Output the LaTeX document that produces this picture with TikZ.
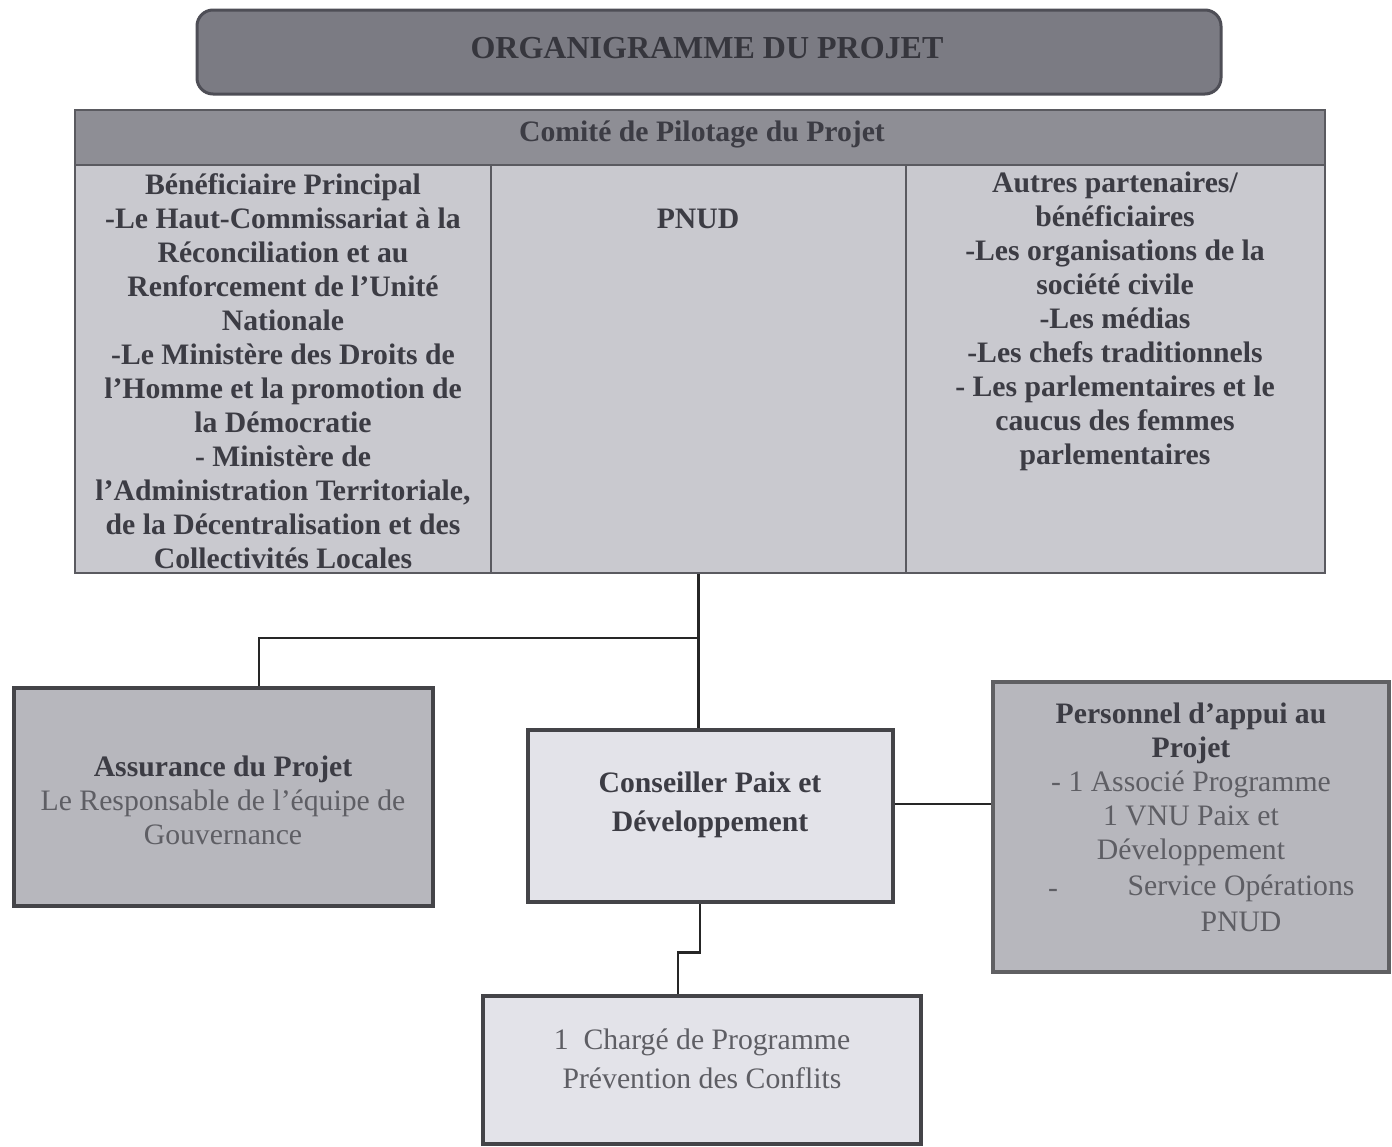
\documentclass[tikz,border=0pt]{standalone}
\usepackage{fontspec}
\setmainfont{Liberation Serif}
\newcommand\bodyfs{\fontsize{29.7}{34}\selectfont}
\newcommand\widefs{\fontsize{29.7}{39}\selectfont}
\definecolor{titlefill}{HTML}{7B7B83}
\definecolor{titleline}{HTML}{4E4E56}
\definecolor{headfill}{HTML}{8E8E95}
\definecolor{bodyfill}{HTML}{C9C9CF}
\definecolor{tableline}{HTML}{5A5A60}
\definecolor{textdark}{HTML}{3C3C44}
\definecolor{textlight}{HTML}{5E5E64}
\definecolor{darkbox}{HTML}{B7B7BD}
\definecolor{lightbox}{HTML}{E3E3E9}
\definecolor{boxline}{HTML}{444448}
\begin{document}
\begin{tikzpicture}[x=1pt,y=-1pt,
  cell/.style={draw=tableline, line width=1.5pt, fill=bodyfill, inner sep=0pt},
  orgbox/.style={draw=boxline, line width=4.5pt, inner sep=0pt},
  txt/.style={align=center, inner sep=0pt, font=\bodyfs, text=textdark},
  conn/.style={draw=black!85, line width=2.5pt}]
\useasboundingbox (0,0) rectangle (1392,1146);
\fill[white] (0,0) rectangle (1392,1146);

% title
\node[draw=titleline, line width=3pt, fill=titlefill, rounded corners=16pt,
      minimum width=1024pt, minimum height=84pt, inner sep=0pt] (title) at (709,52) {};
\node[txt, font=\fontsize{32}{36}\selectfont\bfseries, text=textdark!90!black] (titletxt) at (707,48) {ORGANIGRAMME DU PROJET};

% steering committee table
\node[cell, minimum width=416pt, minimum height=408pt] (col1) at (283,369) {};
\node[cell, minimum width=415pt, minimum height=408pt] (col2) at (698.5,369) {};
\node[cell, minimum width=419pt, minimum height=408pt] (col3) at (1115.5,369) {};
\node[cell, fill=headfill, minimum width=1250pt, minimum height=55pt] (header) at (700,137.5) {};
\node[txt, font=\bodyfs\bfseries] (headtxt) at (702,134) {Comité de Pilotage du Projet};

\node[txt, font=\bodyfs\bfseries] (benef) at (283,371) {Bénéficiaire Principal\\
-Le Haut-Commissariat à la\\
Réconciliation et au\\
Renforcement de l’Unité\\
Nationale\\
-Le Ministère des Droits de\\
l’Homme et la promotion de\\
la Démocratie\\
- Ministère de\\
l’Administration Territoriale,\\
de la Décentralisation et des\\
Collectivités Locales};

\node[txt, font=\bodyfs\bfseries] (pnud) at (698,219) {PNUD};

\node[txt, font=\bodyfs\bfseries] (autres) at (1115,321) {Autres partenaires/\\
bénéficiaires\\
-Les organisations de la\\
société civile\\
-Les médias\\
-Les chefs traditionnels\\
- Les parlementaires et le\\
caucus des femmes\\
parlementaires};

% lower boxes
\node[orgbox, fill=darkbox, minimum width=419pt, minimum height=218pt] (assurance) at (223.5,797) {};
\node[txt] (assurtxt) at (223,800) {{\bfseries Assurance du Projet}\\
\color{textlight}Le Responsable de l’équipe de\\
\color{textlight}Gouvernance};

\node[orgbox, fill=lightbox, minimum width=365pt, minimum height=172pt] (conseiller) at (710.5,816) {};
\node[txt, font=\widefs\bfseries] (conseiltxt) at (710,805) {Conseiller Paix et\\Développement};

\node[orgbox, fill=darkbox, draw=boxline!85, minimum width=396pt, minimum height=290pt] (personnel) at (1191,827) {};
\node[txt] (perstxt) at (1191,784) {{\bfseries Personnel d’appui au}\\
{\bfseries Projet}\\
\color{textlight}- 1 Associé Programme\\
\color{textlight}1 VNU Paix et\\
\color{textlight}Développement};
\node[txt, text=textlight] (persdash) at (1053,893) {-};
\node[txt, text=textlight, font=\fontsize{29.7}{36}\selectfont] (perssvc) at (1241,903) {Service Opérations\\PNUD};

\node[orgbox, fill=lightbox, minimum width=438pt, minimum height=148pt] (charge) at (702,1070) {};
\node[txt, text=textlight, font=\widefs] (chargetxt) at (702,1059) {1\enspace Chargé de Programme\\Prévention des Conflits};

% connectors
\coordinate (jn) at (698.5,638);
\draw[conn] (col2.south) -- (col2.south |- conseiller.north);
\draw[conn] (jn) -| ([xshift=35.5pt]assurance.north);
\draw[conn] ([yshift=12pt]conseiller.east) -- ([yshift=12pt]conseiller.east -| personnel.west);
\draw[conn] ([xshift=-10.5pt]conseiller.south) -- ++(0,48) -| ([xshift=-24pt]charge.north);
\end{tikzpicture}
\end{document}
